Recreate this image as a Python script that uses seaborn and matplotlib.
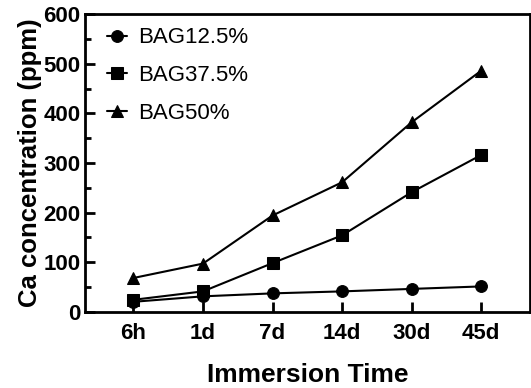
import matplotlib
matplotlib.use("Agg")
import matplotlib.pyplot as plt
import seaborn as sns
import pandas as pd
from matplotlib.ticker import MultipleLocator

times = ["6h", "1d", "7d", "14d", "30d", "45d"]
bag12 = [20, 31, 37, 41, 46, 51]
bag37 = [24, 41, 98, 154, 241, 316]
bag50 = [68, 97, 194, 261, 382, 486]
groups = ["BAG12.5%", "BAG37.5%", "BAG50%"]

rows = []
for name, vals in zip(groups, [bag12, bag37, bag50]):
    for i, (t, v) in enumerate(zip(times, vals)):
        rows.append({"pos": i, "time": t, "ca": v, "group": name})
df = pd.DataFrame(rows)

sns.set_style("ticks")
plt.rcParams['font.family'] = ['Liberation Sans', 'DejaVu Sans']
plt.rcParams.update({"text.color": "black", "axes.labelcolor": "black",
                     "xtick.color": "black", "ytick.color": "black"})

fig = plt.figure(figsize=(5.31, 3.88), dpi=100)
ax = fig.add_axes([0.1595, 0.1966, 0.8385, 0.767])

sns.lineplot(data=df, x="pos", y="ca", hue="group", style="group",
             palette=["black"] * 3, markers=["o", "s", "^"], dashes=False,
             markersize=8.5, linewidth=1.5, markeredgecolor="black", ax=ax)

ax.set_xlim(-0.7, 5.7)
ax.set_ylim(0, 600)
ax.set_xticks(range(len(times)))
ax.set_xticklabels(times)
ax.yaxis.set_major_locator(MultipleLocator(100))
ax.yaxis.set_minor_locator(MultipleLocator(50))

for s in ax.spines.values():
    s.set_linewidth(2)
    s.set_color("black")
ax.tick_params(axis="both", which="major", direction="in", length=7, width=2,
               labelsize=16, color="black")
ax.tick_params(axis="x", which="major", pad=8)
ax.tick_params(axis="y", which="major", pad=3)
ax.tick_params(axis="y", which="minor", direction="in", length=4, width=2, color="black")
ax.tick_params(axis="x", which="minor", length=0)
for lab in ax.get_xticklabels() + ax.get_yticklabels():
    lab.set_fontweight("bold")

ax.set_xlabel("Immersion Time", fontsize=19, fontweight="bold", labelpad=14)
ax.set_ylabel("Ca concentration (ppm)", fontsize=18.5, fontweight="bold", labelpad=1)

ax.legend(loc="upper left", frameon=False, fontsize=16, handlelength=0.9,
          labelspacing=0.75, handletextpad=0.5, borderaxespad=0.0,
          bbox_to_anchor=(0.03, 0.985))

fig.savefig("out.png", dpi=100)
